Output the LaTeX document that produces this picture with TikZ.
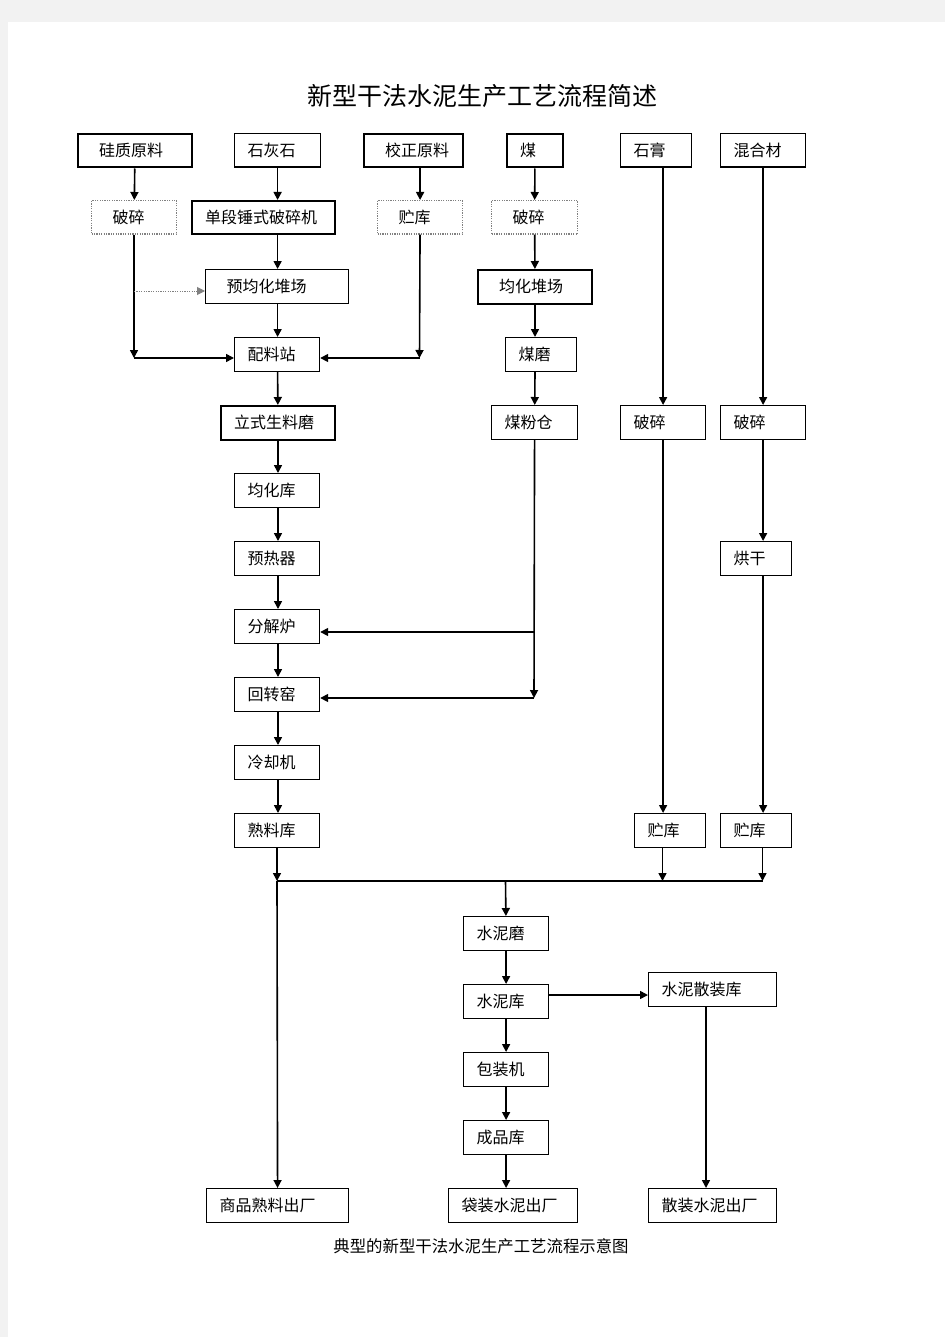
\documentclass[tikz,border=0pt]{standalone}
\usepackage{fontspec}
\newfontfamily\cjk{Noto Sans CJK SC}
\usetikzlibrary{arrows.meta}

\begin{document}
\begin{tikzpicture}[x=0.5pt, y=-0.5pt, >={Triangle[length=4pt,width=4pt]},
    box/.style={draw, line width=0.6pt, anchor=north west, minimum height=16.75pt,
        inner ysep=0pt, inner xsep=6.5pt, text width=#1, align=left,
        font=\cjk\fontsize{8pt}{9pt}\selectfont},
    wbox/.style={box=#1, inner xsep=10.5pt},
    dotbox/.style={wbox=#1, draw=gray, dash pattern=on 0.6pt off 0.6pt},
    heavy/.style={line width=1pt},
    flow/.style={->, line width=0.8pt}]
    \useasboundingbox (0,0) rectangle (945,1337);
    \fill[black!5] (0,0) rectangle (945,1337);
    \fill[white] (8,22) rectangle (945,1337);

    \node[font=\cjk\fontsize{12.5pt}{14pt}\selectfont] (title) at (482,96) {新型干法水泥生产工艺流程简述};

    % raw materials
    \node[wbox=36pt, heavy] (si) at (77,133) {硅质原料};
    \node[box=30pt] (lime) at (234,133) {石灰石};
    \node[wbox=28.5pt, heavy] (corr) at (363,133) {校正原料};
    \node[box=15pt, heavy] (coal) at (506,133) {煤};
    \node[box=22.5pt] (gyp) at (620,133) {石膏};
    \node[box=29.5pt] (mix) at (720,133) {混合材};

    \node[dotbox=21.5pt] (crush_a) at (91,200) {破碎};
    \node[box=58.5pt, heavy] (hammer) at (191,200) {单段锤式破碎机};
    \node[dotbox=21.5pt] (store_a) at (377,200) {贮库};
    \node[dotbox=22pt] (crush_b) at (491,200) {破碎};

    \node[wbox=50.5pt] (prehomo) at (205,269) {预均化堆场};
    \node[wbox=36pt, heavy] (coalhomo) at (477,269) {均化堆场};

    \node[box=29.5pt] (batch) at (234,337) {配料站};
    \node[box=22.5pt] (coalmill) at (505,337) {煤磨};

    \node[box=44pt, heavy] (rawmill) at (220,405) {立式生料磨};
    \node[box=30pt] (coalbin) at (491,405) {煤粉仓};
    \node[box=29.5pt] (crush_c) at (620,405) {破碎};
    \node[box=29.5pt] (crush_d) at (720,405) {破碎};

    % kiln line
    \node[box=29.5pt] (homosilo) at (234,473) {均化库};
    \node[box=29.5pt] (preheater) at (234,541) {预热器};
    \node[box=22.5pt] (dryer) at (720,541) {烘干};
    \node[box=29.5pt] (calciner) at (234,609) {分解炉};
    \node[box=29.5pt] (kiln) at (234,677) {回转窑};
    \node[box=29.5pt] (cooler) at (234,745) {冷却机};
    \node[box=29.5pt] (clinker) at (234,813) {熟料库};
    \node[box=22.5pt] (store_b) at (634,813) {贮库};
    \node[box=22.5pt] (store_c) at (720,813) {贮库};

    % cement
    \node[box=29.5pt] (cmill) at (463,916) {水泥磨};
    \node[box=29.5pt] (csilo) at (463,984) {水泥库};
    \node[box=51pt] (bulksilo) at (648,972) {水泥散装库};
    \node[box=29.5pt] (packer) at (463,1052) {包装机};
    \node[box=29.5pt] (product) at (463,1120) {成品库};

    \node[box=58pt] (out_clinker) at (206,1188) {商品熟料出厂};
    \node[box=51.5pt] (out_bag) at (448,1188) {袋装水泥出厂};
    \node[box=51pt] (out_bulk) at (648,1188) {散装水泥出厂};

    \node[font=\cjk\fontsize{8.2pt}{9pt}\selectfont] (caption) at (481,1246) {典型的新型干法水泥生产工艺流程示意图};

    \coordinate (j_a) at (134,358);
    \coordinate (dot_a) at (134,291);
    \coordinate (j_b) at (419.5,358);
    \coordinate (coal_t) at (534,632);
    \coordinate (coal_k) at (534,698);
    \coordinate (mix_l) at (277,881);
    \coordinate (mix_g) at (662.5,881);
    \coordinate (mix_r) at (762.5,881);
    \coordinate (mix_m) at (505.5,881);
    \coordinate (cs) at (548,995);
    \coordinate (bk) at (706,1006);

    \path[flow]
        (si) edge (crush_a)
        (crush_a.south -| j_a) edge (j_a)
        (j_a) edge (batch.west |- j_a)
        (lime.south) edge (lime.south |- hammer.north)
        (hammer.south -| lime.south) edge (prehomo.north -| lime.south)
        (prehomo.south -| lime.south) edge (batch.north -| lime.south)
        (corr.south -| store_a.north) edge (store_a)
        (store_a) edge (j_b)
        (j_b) edge (batch.east |- j_b)
        (batch.south -| lime.south) edge (rawmill)
        (rawmill) edge (homosilo.north -| rawmill.south)
        (homosilo.south -| rawmill.south) edge (preheater.north -| rawmill.south)
        (preheater.south -| rawmill.south) edge (calciner.north -| rawmill.south)
        (calciner.south -| rawmill.south) edge (kiln.north -| rawmill.south)
        (kiln.south -| rawmill.south) edge (cooler.north -| rawmill.south)
        (cooler.south -| rawmill.south) edge (clinker.north -| rawmill.south)
        (clinker.south -| mix_l) edge (mix_l)
        (mix_l) edge (out_clinker)
        (coal) edge (crush_b)
        (crush_b) edge (coalhomo)
        (coalhomo.south) edge (coalhomo.south |- coalmill.north)
        (coalmill.south -| coalhomo.south) edge (coalbin)
        (coalbin) edge (coal_k)
        (coal_t) edge (calciner.east |- coal_t)
        (coal_k) edge (kiln.east |- coal_k)
        (gyp.south -| crush_c.north) edge (crush_c)
        (crush_c.south) edge (crush_c.south |- store_b.north)
        (store_b.south -| mix_g) edge (mix_g)
        (mix) edge (crush_d)
        (crush_d.south) edge (crush_d.south |- dryer.north)
        (dryer.south -| crush_d.south) edge (crush_d.south |- store_c.north)
        (store_c.south -| mix_r) edge (mix_r)
        (mix_m) edge (cmill)
        (cmill) edge (csilo)
        (csilo) edge (packer)
        (packer) edge (product)
        (product.south) edge (product.south |- out_bag.north)
        (cs) edge (bulksilo.west |- cs)
        (bk) edge (bk |- out_bulk.north);
    \draw[->, line width=0.5pt, gray, dash pattern=on 0.6pt off 0.6pt] (dot_a) -- (prehomo.west |- dot_a);
    \draw[line width=0.8pt] (mix_l) -- (mix_r);
\end{tikzpicture}
\end{document}
